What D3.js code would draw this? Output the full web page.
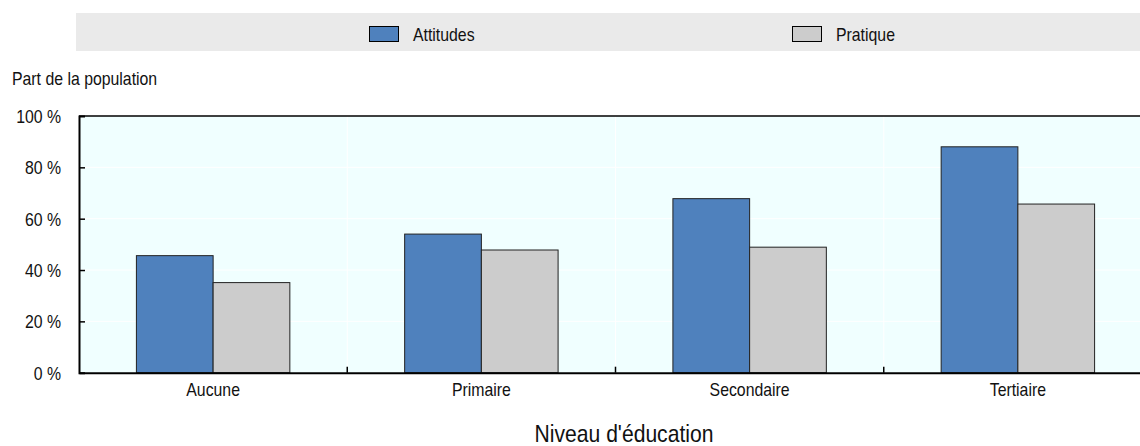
<!DOCTYPE html>
<html>
<head>
<meta charset="utf-8">
<script src="https://cdn.jsdelivr.net/npm/d3@7"></script>
<style>
  html, body { margin: 0; padding: 0; background: #fff; }
  svg { display: block; }
  text { font-family: "Liberation Sans", Arial, sans-serif; fill: #111; }
</style>
</head>
<body>
<svg id="chart" width="1140" height="446"></svg>
<script>
// Part de la population selon le niveau d'éducation
const categories = ["Aucune", "Primaire", "Secondaire", "Tertiaire"];
const seriesNames = ["Attitudes", "Pratique"];
const attitudes = [45.6, 54.0, 67.8, 88.0];
const pratique = [35.1, 47.8, 48.9, 65.7];
const yTicks = [0, 20, 40, 60, 80, 100];
const yTitle = "Part de la population";
const xTitle = "Niveau d'éducation";

const colors = { Attitudes: "#4F81BD", Pratique: "#CCCCCC" };
const series = [attitudes, pratique];

// Condensed lettering: regular face squeezed horizontally
const SX = 0.88;
const LABEL_SIZE = 18;

const svg = d3.select("#chart");
const W = 1140;
const plot = { left: 79, right: 1152, top: 116, bottom: 372.7 };

function label(parent, x, y, str, size, anchor) {
  const g = parent.append("g").attr("transform", `translate(${x},${y}) scale(${SX},1)`);
  return g.append("text")
    .attr("font-size", size)
    .attr("text-anchor", anchor || "start")
    .text(str);
}

// Legend band
const legend = svg.append("g");
legend.append("rect")
  .attr("x", 76).attr("y", 13).attr("width", W - 76).attr("height", 38)
  .attr("fill", "#EAEAEA");
const legendX = d3.scaleOrdinal().domain(seriesNames).range([369, 792]);
seriesNames.forEach(name => {
  const x0 = legendX(name);
  legend.append("rect")
    .attr("x", x0 + 0.5).attr("y", 26.5).attr("width", 29).attr("height", 15)
    .attr("fill", colors[name]).attr("stroke", "#000").attr("stroke-width", 1);
  label(legend, x0 + 44, 40.5, name, LABEL_SIZE);
});

// Scales
const x = d3.scaleBand().domain(categories).range([plot.left, plot.right]).paddingInner(0).paddingOuter(0);
const y = d3.scaleLinear().domain([0, 100]).range([plot.bottom, plot.top]);
const groupWidth = x.bandwidth() * 0.572;
const xs = d3.scaleBand().domain(d3.range(series.length)).range([0, groupWidth]);

// Plot background
svg.append("rect")
  .attr("x", plot.left).attr("y", plot.top)
  .attr("width", plot.right - plot.left).attr("height", plot.bottom - plot.top)
  .attr("fill", "#F0FFFF");

// Gridlines
svg.append("g").selectAll("line")
  .data(yTicks.filter(t => t > 0 && t < 100))
  .join("line")
  .attr("x1", plot.left).attr("x2", plot.right)
  .attr("y1", d => y(d)).attr("y2", d => y(d))
  .attr("stroke", "#fff").attr("stroke-width", 1);
svg.append("g").selectAll("line")
  .data(categories.slice(1))
  .join("line")
  .attr("x1", d => x(d)).attr("x2", d => x(d))
  .attr("y1", plot.top).attr("y2", plot.bottom)
  .attr("stroke", "#fff").attr("stroke-width", 1);

// Bars
const groups = svg.append("g").selectAll("g")
  .data(categories)
  .join("g")
  .attr("transform", d => `translate(${x(d) + (x.bandwidth() - groupWidth) / 2},0)`);
groups.selectAll("rect")
  .data((d, i) => series.map((s, k) => ({ k, v: s[i] })))
  .join("rect")
  .attr("x", d => xs(d.k))
  .attr("width", xs.bandwidth())
  .attr("y", d => y(d.v))
  .attr("height", d => y(0) - y(d.v))
  .attr("fill", d => colors[seriesNames[d.k]])
  .attr("stroke", "#222").attr("stroke-width", 1);

// Top rule of the frame
svg.append("line")
  .attr("x1", plot.left).attr("x2", plot.right)
  .attr("y1", plot.top).attr("y2", plot.top)
  .attr("stroke", "#000").attr("stroke-width", 1.5);

// Y axis
const yPad = 18;
const yAxis = d3.axisLeft(y).tickValues(yTicks).tickSize(-6).tickPadding(yPad)
  .tickFormat(d => d + " %");
const yg = svg.append("g").attr("transform", `translate(${plot.left},0)`).call(yAxis);
yg.select(".domain").attr("stroke", "#000").attr("stroke-width", 2);
yg.selectAll(".tick line").attr("stroke", "#000").attr("stroke-width", 1.5);
yg.selectAll(".tick text")
  .attr("font-size", LABEL_SIZE).attr("font-family", null).attr("fill", "#111")
  .attr("x", -yPad / SX).attr("dy", "0.36em")
  .attr("transform", `scale(${SX},1)`);
yg.selectAll(".tick").filter(d => d === 0 || d === 100).select("line").remove();

// X axis
const xAxis = d3.axisBottom(x).tickSize(0).tickPadding(0);
const xg = svg.append("g").attr("transform", `translate(0,${plot.bottom})`).call(xAxis);
xg.select(".domain").attr("stroke", "#000").attr("stroke-width", 2);
xg.selectAll(".tick text")
  .attr("font-size", LABEL_SIZE).attr("font-family", null).attr("fill", "#111")
  .attr("y", 23).attr("dy", null)
  .attr("transform", `scale(${SX},1)`);
xg.selectAll("line.sep")
  .data(categories.slice(1))
  .join("line")
  .attr("class", "sep")
  .attr("x1", d => x(d)).attr("x2", d => x(d))
  .attr("y1", 0).attr("y2", -6)
  .attr("stroke", "#000").attr("stroke-width", 1.5);

// Titles
label(svg, 12, 85, yTitle, LABEL_SIZE);
label(svg, 624, 442, xTitle, 24, "middle");
</script>
</body>
</html>
